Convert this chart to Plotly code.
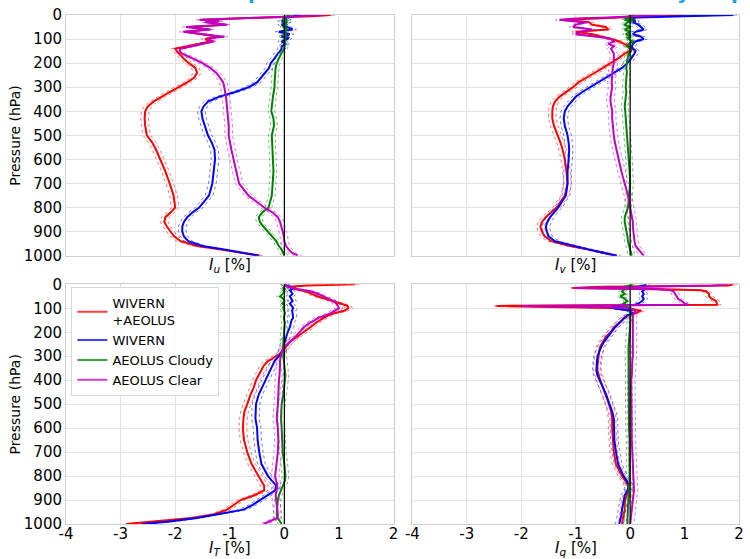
import plotly.graph_objects as go

# Pressure levels (hPa)
pressure = [0, 5, 10, 15, 20, 25, 30, 40, 50, 60, 70, 80, 85, 90, 95, 100, 110, 120, 130, 140,
            150, 160, 180, 200, 220, 240, 260, 280, 300, 320, 340, 360, 380, 400, 430, 460,
            500, 530, 560, 600, 650, 700, 750, 800, 820, 840, 860, 880, 900, 920, 940, 960,
            975, 990, 1000]

series_names = ["WIVERN<br>+AEOLUS", "WIVERN", "AEOLUS Cloudy", "AEOLUS Clear"]

# ---- I_u ----
iu_wivern_aeolus = [0.85, 0.5, -0.3, -1.0, -1.5, -1.2, -1.4, -1.1, -1.75, -1.4, -1.8, -1.5, -1.3, -1.2, -1.35,
                    -1.45, -1.35, -1.55, -1.8, -2.0, -1.97, -1.93, -1.85, -1.75, -1.63, -1.6, -1.65, -1.78,
                    -1.95, -2.1, -2.25, -2.4, -2.5, -2.55, -2.56, -2.55, -2.52, -2.42, -2.35, -2.27, -2.18,
                    -2.1, -2.03, -2.0, -2.08, -2.18, -2.2, -2.15, -2.08, -2.02, -1.9, -1.6, -1.15, -0.75, -0.45]
iu_wivern = [0.3, 0.15, 0.05, 0.0, 0.05, -0.05, 0.05, -0.05, 0.05, 0.15, -0.1, 0.1, 0.0, -0.05, 0.08,
             0.05, -0.05, 0.02, -0.05, -0.05, -0.08, -0.12, -0.18, -0.25, -0.28, -0.35, -0.42, -0.5,
             -0.65, -0.9, -1.2, -1.4, -1.48, -1.52, -1.5, -1.46, -1.4, -1.33, -1.28, -1.27, -1.3,
             -1.32, -1.38, -1.56, -1.68, -1.78, -1.84, -1.87, -1.87, -1.84, -1.76, -1.5, -1.08, -0.72, -0.47]
iu_cloudy = [0.1, 0.05, 0.0, 0.03, -0.03, 0.05, 0.0, 0.04, -0.02, 0.05, 0.0, 0.03, -0.02, 0.02, 0.0,
             0.02, 0.0, 0.01, 0.0, 0.0, -0.03, -0.06, -0.1, -0.14, -0.16, -0.17, -0.18, -0.18,
             -0.18, -0.2, -0.21, -0.22, -0.23, -0.24, -0.2, -0.19, -0.23, -0.22, -0.21, -0.21, -0.2,
             -0.22, -0.23, -0.29, -0.4, -0.47, -0.45, -0.38, -0.3, -0.22, -0.15, -0.1, -0.05, -0.02, 0.0]
iu_clear = [0.7, 0.3, -0.4, -1.1, -1.55, -1.2, -1.45, -1.05, -1.8, -1.35, -1.85, -1.5, -1.3, -1.1, -1.3,
            -1.4, -1.3, -1.5, -1.75, -1.9, -1.92, -1.88, -1.68, -1.5, -1.36, -1.25, -1.18, -1.12,
            -1.1, -1.08, -1.07, -1.06, -1.05, -1.04, -1.03, -1.02, -1.02, -1.0, -0.97, -0.93, -0.88,
            -0.83, -0.66, -0.37, -0.22, -0.12, -0.08, -0.05, -0.03, -0.01, 0.0, 0.03, 0.08, 0.15, 0.25]

# ---- I_v ----
iv_wivern_aeolus = [1.0, 0.6, -0.2, -0.8, -1.15, -1.0, -0.75, -0.7, -0.45, -0.4, -1.0, -0.7, -0.6, -0.5, -0.4,
                    -0.35, -0.2, -0.12, -0.05, 0.05, -0.02, -0.1, -0.22, -0.35, -0.5, -0.65, -0.8, -0.95,
                    -1.05, -1.18, -1.3, -1.38, -1.42, -1.43, -1.43, -1.4, -1.33, -1.28, -1.24, -1.2, -1.17,
                    -1.15, -1.2, -1.35, -1.45, -1.55, -1.62, -1.65, -1.62, -1.57, -1.45, -1.1, -0.75, -0.45, -0.27]
iv_wivern = [1.9, 0.8, 0.1, 0.05, 0.0, 0.1, 0.05, 0.15, 0.2, 0.25, 0.1, 0.05, 0.12, 0.2, 0.22,
             0.25, 0.1, 0.05, 0.03, 0.05, 0.1, 0.08, 0.02, -0.05, -0.15, -0.3, -0.45, -0.6,
             -0.75, -0.88, -1.0, -1.08, -1.15, -1.2, -1.22, -1.2, -1.15, -1.13, -1.12, -1.13, -1.15,
             -1.15, -1.18, -1.32, -1.4, -1.47, -1.52, -1.55, -1.53, -1.5, -1.38, -1.05, -0.75, -0.45, -0.24]
iv_cloudy = [0.1, 0.0, -0.1, 0.05, -0.1, 0.05, -0.05, -0.1, 0.0, -0.1, 0.0, -0.08, -0.02, 0.0, -0.05,
             -0.03, 0.05, -0.02, -0.06, 0.0, 0.02, -0.03, -0.05, -0.06, -0.07, -0.06, -0.07, -0.08,
             -0.08, -0.07, -0.08, -0.1, -0.1, -0.09, -0.08, -0.06, -0.05, -0.04, -0.03, -0.02, -0.01,
             0.0, -0.02, -0.04, -0.07, -0.1, -0.1, -0.08, -0.07, -0.05, -0.04, -0.02, 0.0, 0.02, 0.03]
iv_clear = [0.6, 0.2, -0.4, -1.0, -1.3, -1.1, -0.8, -1.0, -1.05, -0.7, -0.9, -1.0, -0.8, -0.6, -0.45,
            -0.35, -0.3, -0.4, -0.3, -0.35, -0.33, -0.3, -0.3, -0.3, -0.32, -0.33, -0.33, -0.34,
            -0.33, -0.35, -0.36, -0.36, -0.34, -0.33, -0.33, -0.32, -0.3, -0.28, -0.25, -0.22, -0.16,
            -0.1, -0.04, 0.0, 0.02, 0.04, 0.05, 0.05, 0.06, 0.06, 0.08, 0.1, 0.15, 0.2, 0.25]

# ---- I_T ----
it_wivern_aeolus = [1.3, 0.4, 0.1, 0.15, 0.2, 0.3, 0.4, 0.5, 0.6, 0.75, 0.9, 1.05, 1.1, 1.15, 1.17,
                    1.17, 1.1, 0.92, 0.8, 0.72, 0.64, 0.58, 0.47, 0.35, 0.22, 0.1, 0.03, -0.03,
                    -0.15, -0.3, -0.38, -0.43, -0.48, -0.52, -0.56, -0.62, -0.68, -0.73, -0.75, -0.76, -0.74,
                    -0.68, -0.6, -0.48, -0.42, -0.37, -0.37, -0.55, -0.8, -0.92, -1.05, -1.3, -1.7, -2.4, -2.9]
it_wivern = [0.0, 0.05, 0.1, 0.12, 0.15, 0.1, 0.12, 0.15, 0.1, 0.12, 0.15, 0.1, 0.12, 0.13, 0.15,
             0.16, 0.14, 0.15, 0.16, 0.16, 0.13, 0.12, 0.1, 0.06, 0.03, 0.0, -0.02, -0.04,
             -0.1, -0.18, -0.22, -0.27, -0.31, -0.35, -0.41, -0.47, -0.52, -0.53, -0.53, -0.5, -0.49,
             -0.46, -0.42, -0.3, -0.22, -0.15, -0.17, -0.3, -0.45, -0.58, -0.75, -1.2, -1.6, -2.1, -2.6]
it_cloudy = [0.0, 0.02, 0.0, -0.03, 0.02, -0.02, 0.0, -0.03, -0.08, -0.02, 0.0, -0.04, -0.01, 0.0, -0.02,
             -0.02, 0.0, 0.01, 0.0, -0.01, 0.0, 0.01, 0.0, 0.0, -0.01, -0.02, -0.02, -0.03,
             -0.02, -0.01, 0.0, 0.01, 0.02, 0.01, 0.0, -0.02, -0.05, -0.06, -0.06, -0.05, -0.04,
             -0.03, 0.0, 0.02, 0.01, -0.03, -0.07, -0.1, -0.12, -0.13, -0.14, -0.14, -0.12, -0.08, -0.05]
it_clear = [0.0, 0.05, 0.1, 0.15, 0.25, 0.35, 0.5, 0.62, 0.72, 0.82, 0.9, 0.95, 0.97, 0.98, 0.99,
            1.0, 0.92, 0.85, 0.75, 0.62, 0.55, 0.47, 0.35, 0.28, 0.2, 0.1, 0.0, -0.05,
            -0.07, -0.08, -0.08, -0.08, -0.09, -0.1, -0.1, -0.11, -0.12, -0.13, -0.14, -0.12, -0.11,
            -0.12, -0.15, -0.17, -0.15, -0.13, -0.14, -0.16, -0.15, -0.14, -0.13, -0.12, -0.13, -0.28, -0.38]

# ---- I_q ----
iq_wivern_aeolus = [1.9, 1.8, -0.5, -1.05, 0.6, 1.3, 1.4, 1.45, 1.45, 1.5, 1.58, 1.6, 1.6, -2.45, -0.8,
                    -0.1, 0.2, 0.1, -0.05, -0.12, -0.15, -0.2, -0.3, -0.36, -0.45, -0.5, -0.55, -0.57,
                    -0.58, -0.6, -0.6, -0.6, -0.58, -0.55, -0.5, -0.45, -0.39, -0.35, -0.33, -0.33, -0.32,
                    -0.3, -0.26, -0.15, -0.09, -0.04, -0.03, -0.06, -0.09, -0.1, -0.1, -0.12, -0.13, -0.15, -0.15]
iq_wivern = [0.3, 0.25, 0.15, 0.2, 0.22, 0.25, 0.22, 0.25, 0.22, 0.25, 0.22, 0.15, 0.1, -0.2, -0.33,
             -0.3, 0.0, 0.05, -0.05, -0.1, -0.15, -0.2, -0.28, -0.35, -0.42, -0.48, -0.53, -0.57,
             -0.6, -0.61, -0.62, -0.62, -0.6, -0.56, -0.5, -0.44, -0.38, -0.33, -0.3, -0.3, -0.29,
             -0.26, -0.22, -0.12, -0.06, -0.02, -0.05, -0.1, -0.12, -0.14, -0.15, -0.16, -0.17, -0.18, -0.2]
iq_cloudy = [0.0, 0.05, -0.1, -0.05, -0.1, -0.12, -0.15, -0.1, -0.18, -0.1, -0.05, -0.12, -0.08, -0.1, -0.05,
             0.0, 0.02, 0.0, 0.01, 0.0, 0.01, 0.0, 0.0, -0.01, -0.02, -0.02, -0.03, -0.03,
             -0.03, -0.03, -0.02, -0.02, -0.02, -0.02, -0.02, -0.03, -0.03, -0.02, -0.02, -0.02, -0.01,
             -0.01, 0.0, 0.0, -0.01, -0.02, -0.02, -0.03, -0.03, -0.04, -0.04, -0.04, -0.05, -0.05, -0.05]
iq_clear = [1.8, 1.5, 0.3, -1.0, 0.5, 0.75, 0.8, 0.83, 0.85, 0.88, 0.95, 1.0, 1.07, -2.0, -0.5,
            0.0, 0.1, 0.08, 0.05, 0.05, 0.05, 0.06, 0.06, 0.05, 0.05, 0.05, 0.05, 0.05,
            0.05, 0.04, 0.04, 0.03, 0.03, 0.02, 0.02, 0.02, 0.02, 0.02, 0.03, 0.03, 0.03,
            0.04, 0.05, 0.06, 0.06, 0.07, 0.07, 0.06, 0.05, 0.04, 0.03, 0.02, 0.02, 0.01, 0.0]

# half-width of the confidence band of each series
ci_half = [0.07, 0.07, 0.06, 0.07]

panels = [
    ([iu_wivern_aeolus, iu_wivern, iu_cloudy, iu_clear], "<i>I</i><sub><i>u</i></sub> [%]"),
    ([iv_wivern_aeolus, iv_wivern, iv_cloudy, iv_clear], "<i>I</i><sub><i>v</i></sub> [%]"),
    ([it_wivern_aeolus, it_wivern, it_cloudy, it_clear], "<i>I</i><sub><i>T</i></sub> [%]"),
    ([iq_wivern_aeolus, iq_wivern, iq_cloudy, iq_clear], "<i>I</i><sub><i>q</i></sub> [%]"),
]

colors = ["#ff0000", "#0000ff", "#008000", "#bf00bf"]
legend_colors = ["rgba(255,0,0,0.75)", "rgba(0,0,255,0.75)", "rgba(0,128,0,0.75)", "rgba(191,0,191,0.75)"]
band_colors = ["rgba(255,0,0,0.55)", "rgba(0,0,255,0.55)", "rgba(0,128,0,0.55)", "rgba(191,0,191,0.55)"]

fig = go.Figure()

# axis domains (paper fractions)
W, H = 750, 559
ml, mr, mt, mb = 66, 6, 10, 35
pw, ph = W - ml - mr, H - mt - mb
xdoms = [[0, 330 / pw], [349 / pw, 1]]
ydoms = [[(524 - 253) / ph, 1], [0, (524 - 282) / ph]]

axis_ids = ["", "2", "3", "4"]
for k, (vals_list, title) in enumerate(panels):
    row, col = divmod(k, 2)
    xa = "x" + axis_ids[k]
    ya = "y" + axis_ids[k]
    for s, vals in enumerate(vals_list):
        lo = [v - ci_half[s] for v in vals]
        hi = [v + ci_half[s] for v in vals]
        for band in (lo, hi):
            fig.add_trace(go.Scatter(x=band, y=pressure, mode="lines", xaxis=xa, yaxis=ya,
                                     line=dict(color=band_colors[s], width=1, dash="dot"),
                                     showlegend=False, hoverinfo="skip"))
        fig.add_trace(go.Scatter(x=vals, y=pressure, mode="lines", xaxis=xa, yaxis=ya,
                                 line=dict(color=colors[s], width=2),
                                 showlegend=False, name=series_names[s]))
    # zero line
    fig.add_trace(go.Scatter(x=[0, 0], y=[0, 1000], mode="lines", xaxis=xa, yaxis=ya,
                             line=dict(color="black", width=1.2), showlegend=False, hoverinfo="skip"))
    axx = dict(domain=xdoms[col], range=[-4, 2], dtick=1, showgrid=True, gridcolor="#e2e2e2",
               gridwidth=1, zeroline=False, showline=True, mirror=True, linecolor="#cfcfcf",
               linewidth=1, showticklabels=(row == 1), anchor=ya, ticklabelstandoff=-4,
               tickfont=dict(family="DejaVu Sans", size=15, color="black"),
               tickvals=[-4, -3, -2, -1, 0, 1, 2], ticktext=["-4", "-3", "-2", "-1", "0", "1", "2"])
    axy = dict(domain=ydoms[row], range=[1000, 0], dtick=100, showgrid=True, gridcolor="#e2e2e2",
               gridwidth=1, zeroline=False, showline=True, mirror=True, linecolor="#cfcfcf",
               linewidth=1, showticklabels=(col == 0), anchor=xa,
               tickfont=dict(family="DejaVu Sans", size=15, color="black"))
    fig.update_layout({("xaxis" + axis_ids[k]): axx, ("yaxis" + axis_ids[k]): axy})
    cx = (xdoms[col][0] + xdoms[col][1]) / 2
    ty = (524 - 263) / ph if row == 0 else (524 - 549) / ph
    fig.add_annotation(text=title, x=cx, y=ty, xref="paper", yref="paper", showarrow=False,
                       xanchor="center", yanchor="middle",
                       font=dict(family="DejaVu Sans", size=15, color="black"))

# legend entries
for s in range(4):
    fig.add_trace(go.Scatter(x=[None], y=[None], mode="lines", xaxis="x3", yaxis="y3",
                             line=dict(color=legend_colors[s], width=2), name=series_names[s],
                             showlegend=True))

# y-axis titles
for row in range(2):
    cy = (ydoms[row][0] + ydoms[row][1]) / 2
    fig.add_annotation(text="Pressure (hPa)", x=(15 - ml) / pw, y=cy, xref="paper", yref="paper",
                       showarrow=False, textangle=-90, xanchor="center", yanchor="middle",
                       font=dict(family="DejaVu Sans", size=14, color="black"))

# clipped title fragments at the top edge
for txt, px in (("p", 256), ("y", 688), ("p", 743)):
    fig.add_annotation(text="<b>%s</b>" % txt, x=(px - ml) / pw, y=(524 - 1) / ph, xref="paper",
                       yref="paper", showarrow=False, xanchor="center", yanchor="bottom",
                       font=dict(family="DejaVu Sans", size=20, color="#1ea0d8"))

fig.update_layout(
    width=W, height=H, margin=dict(l=ml, r=mr, t=mt, b=mb),
    paper_bgcolor="white", plot_bgcolor="white",
    legend=dict(x=0.008, y=0.465, xanchor="left", yanchor="top", xref="paper", yref="paper",
                bgcolor="rgba(255,255,255,0.9)", bordercolor="#d8d8d8", borderwidth=1,
                font=dict(family="DejaVu Sans", size=13, color="black"), tracegroupgap=0,
                itemwidth=30),
)

fig.write_html("out.html")
